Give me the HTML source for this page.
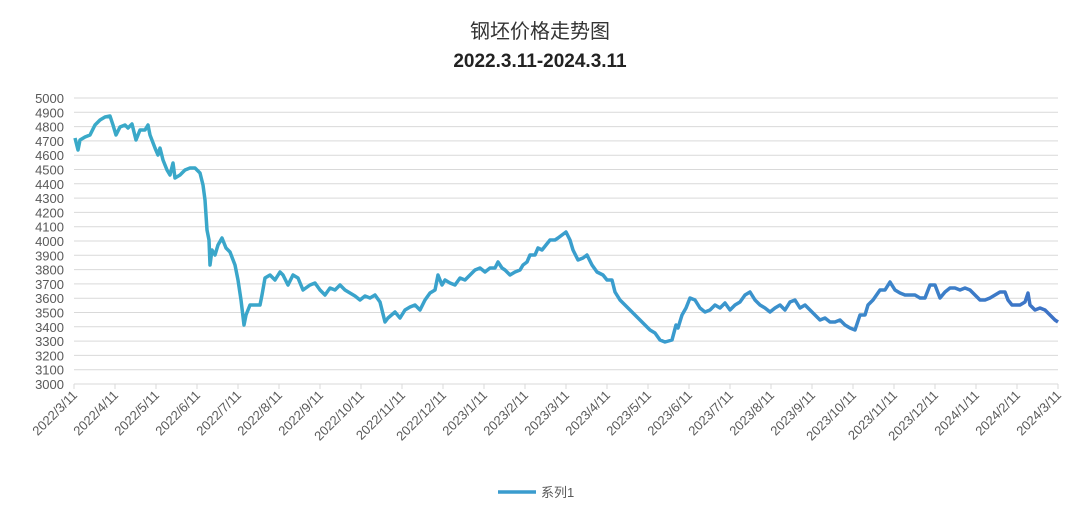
<!DOCTYPE html><html><head><meta charset="utf-8"><style>body{margin:0;background:#fff}svg{display:block}</style></head><body>
<svg width="1080" height="520" xmlns="http://www.w3.org/2000/svg" font-family="Liberation Sans, Noto Sans CJK SC, sans-serif">
<defs><linearGradient id="g" x1="0" x2="1" y1="0" y2="0"><stop offset="0" stop-color="#3aaac8"/><stop offset="0.6" stop-color="#3a9cce"/><stop offset="1" stop-color="#3d72c6"/></linearGradient></defs>
<text x="540" y="38" text-anchor="middle" font-size="20" fill="#333">钢坯价格走势图</text>
<text x="540" y="67" text-anchor="middle" font-size="19" font-weight="bold" fill="#222">2022.3.11-2024.3.11</text>
<g id="grid" stroke="#d9d9d9" stroke-width="1"></g>
<g id="yl" font-size="13" fill="#595959" text-anchor="end"></g>
<g id="xl" font-size="13" fill="#595959" text-anchor="end"></g>
<polyline fill="none" stroke="url(#g)" stroke-width="3.5" stroke-linejoin="round" points="75,138 78,150 80,140 85,137 90,135 95,125 100,120 105,117 110,116 113,125 116,135 120,127 125,125 128,128 132,124 136,140 140,130 145,130 148,125 150,135 155,148 158,155 160,148 163,160 167,170 170,175 173,163 175,178 180,175 185,170 190,168 195,168 200,173 203,185 205,200 207,230 209,240 210,265 212,250 215,255 218,245 222,238 226,248 230,252 235,265 238,280 241,300 244,325 246,315 250,305 260,305 262,295 265,278 270,275 275,280 280,272 283,275 288,285 293,275 298,278 303,290 310,285 315,283 320,290 325,295 330,288 335,290 340,285 345,290 350,293 355,296 360,300 365,296 370,298 375,295 380,302 385,322 388,318 395,312 400,318 405,310 410,307 415,305 420,310 425,300 430,293 435,290 438,275 442,285 445,280 450,283 455,285 460,278 465,280 470,275 475,270 480,268 485,272 490,268 495,268 498,262 502,268 505,270 510,275 515,272 520,270 523,265 527,262 530,255 535,255 538,248 542,250 546,245 550,240 555,240 558,238 562,235 566,232 570,240 573,250 578,260 583,258 587,255 592,265 597,272 603,275 607,280 612,280 615,292 620,300 625,305 630,310 635,315 640,320 645,325 650,330 655,333 660,340 665,342 672,340 676,325 678,328 682,315 686,308 690,298 695,300 700,308 705,312 710,310 715,305 720,308 725,303 730,310 735,305 740,302 745,295 750,292 755,300 760,305 765,308 770,312 775,308 780,305 785,310 790,302 795,300 800,308 805,305 810,310 815,315 820,320 825,318 830,322 835,322 840,320 845,325 850,328 855,330 860,315 865,315 868,305 873,300 880,290 885,290 890,282 895,290 900,293 905,295 910,295 915,295 920,298 925,298 930,285 935,285 940,298 945,292 950,288 955,288 960,290 965,288 970,290 975,295 980,300 985,300 990,298 995,295 1000,292 1005,292 1008,300 1012,305 1020,305 1025,302 1028,293 1030,305 1035,310 1040,308 1045,310 1050,315 1055,320 1058,322"/>
<line x1="498" y1="492" x2="536" y2="492" stroke="#3a9cce" stroke-width="3.5"/>
<text x="541" y="497" font-size="13" fill="#595959">系列1</text>
<script>
var ns="http://www.w3.org/2000/svg",gr=document.getElementById('grid'),yl=document.getElementById('yl'),xl=document.getElementById('xl');
function el(p,t,a){var e=document.createElementNS(ns,t);for(var k in a)e.setAttribute(k,a[k]);p.appendChild(e);return e;}
for(var i=0;i<=20;i++){var y=384-i*14.3;el(gr,'line',{x1:74,x2:1058,y1:y,y2:y});var t=el(yl,'text',{x:64,y:y+5});t.textContent=3000+i*100;}
var labs=[];for(var m=0;m<25;m++){var mo=(2+m)%12+1,yr=2022+Math.floor((2+m)/12);labs.push(yr+'/'+mo+'/11');}
for(var m=0;m<25;m++){var x=74+m*41;el(gr,'line',{x1:x,x2:x,y1:384,y2:389});var t=el(xl,'text',{x:x+4,y:396,transform:'rotate(-45 '+(x+4)+' 396)'});t.textContent=labs[m];}
</script>
</svg></body></html>
